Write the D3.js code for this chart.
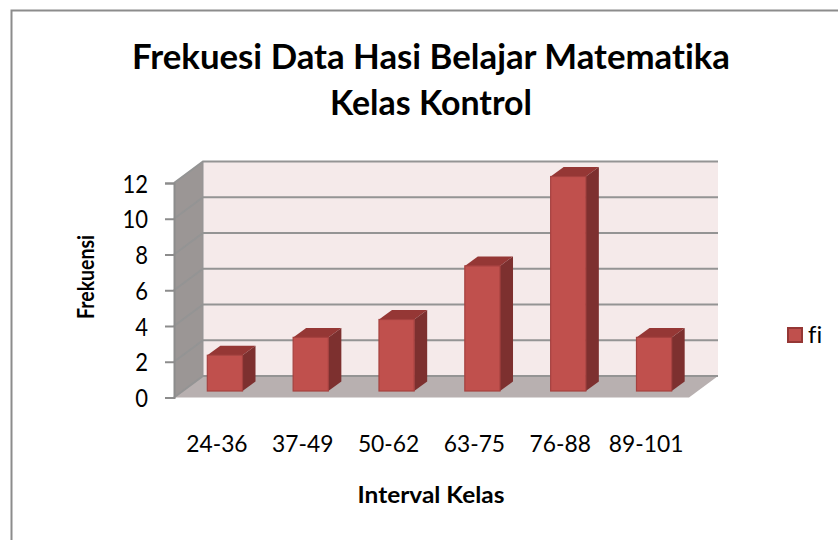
<!DOCTYPE html>
<html>
<head>
<meta charset="utf-8">
<script src="https://cdn.jsdelivr.net/npm/d3@7"></script>
<style>
html, body { margin: 0; padding: 0; background: #fff; }
svg { display: block; font-family: Lato, sans-serif; font-variant-ligatures: none; }
</style>
</head>
<body>
<div id="chart"></div>
<script>
var width = 838,
    height = 540;

var categories = ["24-36", "37-49", "50-62", "63-75", "76-88", "89-101"];
var fi = [2, 3, 4, 7, 12, 3];
var yTicks = [0, 2, 4, 6, 8, 10, 12];
var titleLines = ["Frekuesi Data Hasi Belajar Matematika", "Kelas Kontrol"];
var titleWidths = [598, 202];

// front plane of the fake 3d box, back wall is shifted by depth
var depthX = 29, depthY = -21.5;
var barDX = 13, barDY = -9.5;
var barOffX = 8, barOffY = -6.5;

var x = d3.scaleBand().domain(categories).range([174, 689]).paddingInner(0.59).paddingOuter(0.295);
var y = d3.scaleLinear().domain([0, 12]).range([397.5, 183]);

var svg = d3.select("#chart").append("svg")
    .attr("width", width)
    .attr("height", height);

// Lato is wider or narrower than the original font, so widths get adjusted to match
function stretch(sel, k) {
  sel.each(function() {
    d3.select(this)
      .attr("textLength", this.getComputedTextLength() * k)
      .attr("lengthAdjust", "spacingAndGlyphs");
  });
}

// outer frame, only top and left are visible in the crop
svg.append("path")
    .attr("d", "M11.5,540V10.5H838")
    .attr("fill", "none")
    .attr("stroke", "#8c8c8c")
    .attr("stroke-width", 2);

titleLines.forEach(function(t, i) {
  svg.append("text")
      .attr("x", 431)
      .attr("y", 69 + i * 46)
      .attr("text-anchor", "middle")
      .attr("font-weight", "bold")
      .attr("font-size", 35)
      .attr("textLength", titleWidths[i])
      .attr("lengthAdjust", "spacingAndGlyphs")
      .attr("fill", "#000")
      .text(t);
});

function poly(pts) { return "M" + pts.map(function(p) { return p.join(","); }).join("L") + "Z"; }

var x0 = x.range()[0], x1 = x.range()[1];

// back wall
svg.append("path")
    .attr("d", poly([[x0 + depthX, y(12) + depthY], [x1 + depthX, y(12) + depthY], [x1 + depthX, y(0) + depthY], [x0 + depthX, y(0) + depthY]]))
    .attr("fill", "#f5eaea");

// side wall
svg.append("path")
    .attr("d", poly([[x0, y(12)], [x0 + depthX, y(12) + depthY], [x0 + depthX, y(0) + depthY], [x0, y(0)]]))
    .attr("fill", "#9b9695");

// floor
svg.append("path")
    .attr("d", poly([[x0, y(0)], [x1, y(0)], [x1 + depthX, y(0) + depthY], [x0 + depthX, y(0) + depthY]]))
    .attr("fill", "#b8b0b0");

// gridlines
yTicks.forEach(function(t) {
  svg.append("path")
      .attr("d", "M" + x0 + "," + y(t) + "L" + (x0 + depthX) + "," + (y(t) + depthY) + "H" + (x1 + depthX))
      .attr("fill", "none")
      .attr("stroke", "#949494")
      .attr("stroke-width", 2);
});
svg.append("path")
    .attr("d", "M" + (x0 + depthX) + "," + (y(12) + depthY) + "V" + (y(0) + depthY))
    .attr("stroke", "#949494")
    .attr("fill", "none");

// bars
var bars = svg.selectAll("g.bar")
    .data(categories.map(function(c, i) { return { cat: c, v: fi[i] }; }))
    .enter().append("g")
    .attr("class", "bar")
    .attr("transform", "translate(" + barOffX + "," + barOffY + ")");

bars.append("path")
    .attr("d", function(d) {
      var l = x(d.cat), r = l + x.bandwidth(), t = y(d.v);
      return poly([[l, t], [l + barDX, t + barDY], [r + barDX, t + barDY], [r, t]]);
    })
    .attr("fill", "#953735");
bars.append("path")
    .attr("d", function(d) {
      var r = x(d.cat) + x.bandwidth(), t = y(d.v), b = y(0);
      return poly([[r, t], [r + barDX, t + barDY], [r + barDX, b + barDY], [r, b]]);
    })
    .attr("fill", "#7d302f");
bars.append("rect")
    .attr("x", function(d) { return x(d.cat); })
    .attr("y", function(d) { return y(d.v); })
    .attr("width", x.bandwidth())
    .attr("height", function(d) { return y(0) - y(d.v); })
    .attr("fill", "#c0504d")
    .attr("stroke", "#a5413f")
    .attr("stroke-width", 1.2);

// axes
var yAxis = svg.append("g")
    .attr("transform", "translate(" + x0 + ",0)")
    .call(d3.axisLeft(y).tickValues(yTicks).tickSize(9).tickPadding(17));
yAxis.selectAll("path, line").attr("stroke", "#8c8c8c").attr("stroke-width", 2);
yAxis.selectAll("text")
    .attr("font-size", 25)
    .attr("font-family", "Lato, sans-serif")
    .attr("fill", "#000")
    .attr("dy", "0.36em")
    .call(stretch, 0.88);

var xAxis = svg.append("g")
    .attr("transform", "translate(0," + y(0) + ")")
    .call(d3.axisBottom(x).tickSize(0).tickPadding(37));
xAxis.select("path").remove();
xAxis.selectAll("text")
    .attr("font-size", 24)
    .attr("font-family", "Lato, sans-serif")
    .attr("fill", "#000")
    .call(stretch, 0.95);

// axis titles
svg.append("text")
    .attr("x", 431).attr("y", 503)
    .attr("text-anchor", "middle")
    .attr("font-weight", "bold")
    .attr("font-size", 22)
    .text("Interval Kelas")
    .call(stretch, 1.11);
svg.append("text")
    .attr("transform", "translate(94,277) scale(1.2,1) rotate(-90)")
    .attr("text-anchor", "middle")
    .attr("font-weight", "bold")
    .attr("font-size", 19.5)
    .text("Frekuensi");

// legend
svg.append("rect")
    .attr("x", 788).attr("y", 328)
    .attr("width", 14).attr("height", 14)
    .attr("fill", "#c0504d")
    .attr("stroke", "#953735")
    .attr("stroke-width", 2);
svg.append("text")
    .attr("x", 808).attr("y", 343)
    .attr("font-size", 24)
    .text("fi");
</script>
</body>
</html>
